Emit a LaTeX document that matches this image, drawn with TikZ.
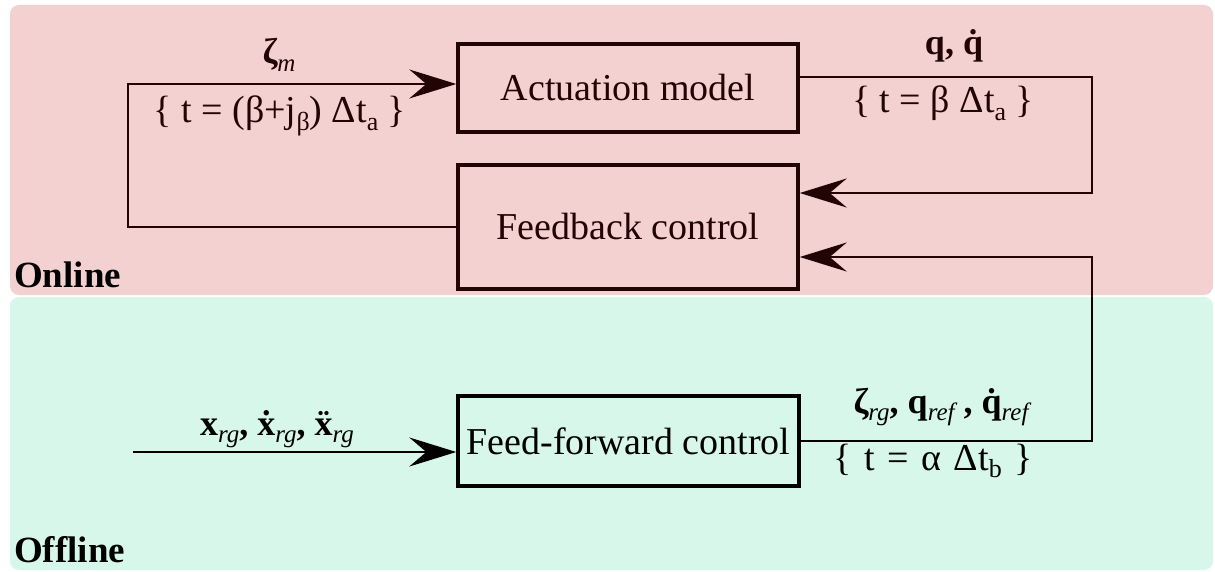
\documentclass[tikz,border=0pt]{standalone}
\usepackage{fontspec}
\newfontfamily\tnr{Liberation Serif}
\usetikzlibrary{arrows.meta}
\definecolor{onbg}{RGB}{244,209,209}
\definecolor{offbg}{RGB}{214,247,233}
\definecolor{oink}{RGB}{34,4,4}
\newcommand\sbs[1]{\raisebox{-0.2em}{\tnr\fontsize{25}{25}\selectfont\mdseries\itshape #1}}
\newcommand\sbu[1]{\raisebox{-0.2em}{\tnr\fontsize{26}{26}\selectfont\mdseries\upshape #1}}
\newcommand\dotone[1]{\accent"02D9 #1}
\newcommand\dottwo[1]{\accent"00A8 #1}
\newcommand\wsp{\hspace{0.33em}}
\begin{document}
\begin{tikzpicture}[x=1pt,y=-1pt,
  region/.style={rounded corners=9pt, draw=none},
  blockbox/.style={draw, line width=3.4pt, inner sep=0pt, font=\tnr\fontsize{38}{40}\selectfont},
  conn/.style={line width=2.8pt, -{Stealth[length=47pt,width=29pt,inset=17pt]}},
  lbl/.style={inner sep=0pt, anchor=base, font=\tnr\fontsize{36}{38}\selectfont},
  tlbl/.style={inner sep=0pt, anchor=base, font=\tnr\fontsize{38}{40}\selectfont},
  zone/.style={inner sep=0pt, anchor=base west, font=\tnr\fontsize{37}{40}\selectfont\bfseries}]
\useasboundingbox (0,0) rectangle (1215,572);
\fill[onbg, region] (10,5) rectangle (1213,295);
\fill[offbg, region] (10,297) rectangle (1213,570);

% blocks
\node[blockbox, draw=oink, text=oink, minimum width=340pt, minimum height=88pt] (act) at (628,88) {Actuation model};
\node[blockbox, draw=oink, text=oink, minimum width=340pt, minimum height=124pt] (fb) at (628,227) {Feedback control};
\node[blockbox, minimum width=341pt, minimum height=90pt] (ff) at (628.5,441) {Feed-forward control};

% helper coordinates
\coordinate (rx1) at (1092,150);
\coordinate (rx2) at (1092,350);
\coordinate (lx) at (128,150);
\coordinate (in) at (133,452);

% connectors
\draw[conn, draw=oink] ([yshift=11pt]act.east) -| (rx1) |- ([yshift=34pt]fb.east);
\draw[conn, draw=oink] (fb.west) -| (lx) |- ([yshift=4pt]act.west);
\begin{scope}
\clip (0,297) rectangle (1215,572);
\draw[line width=2.8pt] (ff.east) -| (rx2) |- ([yshift=-30pt]fb.east);
\end{scope}
\begin{scope}
\clip (0,0) rectangle (1215,297);
\draw[conn, draw=oink] (ff.east) -| (rx2) |- ([yshift=-30pt]fb.east);
\end{scope}
\draw[conn] (in) -- ([yshift=-11pt]ff.west);

% labels
\node[lbl, text=oink] (lzm) at (279,64) {\bfseries ζ\sbs{m}};
\node[tlbl, text=oink] (lzt) at (280,123) {\{ t = (β+j\sbu{β}) Δt\sbu{a} \}};
\node[lbl, text=oink] (lq) at (954,55) {\bfseries q, \dotone{q}};
\node[tlbl, text=oink] (lqt) at (943,113) {\{ t = β Δt\sbu{a} \}};
\node[lbl] (lref) at (941,413) {\bfseries ζ\sbs{rg}, q\sbs{ref} , \dotone{q}\sbs{ref}};
\node[tlbl] (lrt) at (933,470) {\{\wsp t\wsp =\wsp α\wsp Δt\sbu{b}\wsp \}};
\node[lbl] (lxin) at (277,435) {\bfseries x\sbs{rg}, \dotone{x}\sbs{rg}, \dottwo{x}\sbs{rg}};

% zones
\node[zone] (on) at (14,287) {Online};
\node[zone] (off) at (14,562) {Offline};
\end{tikzpicture}
\end{document}
